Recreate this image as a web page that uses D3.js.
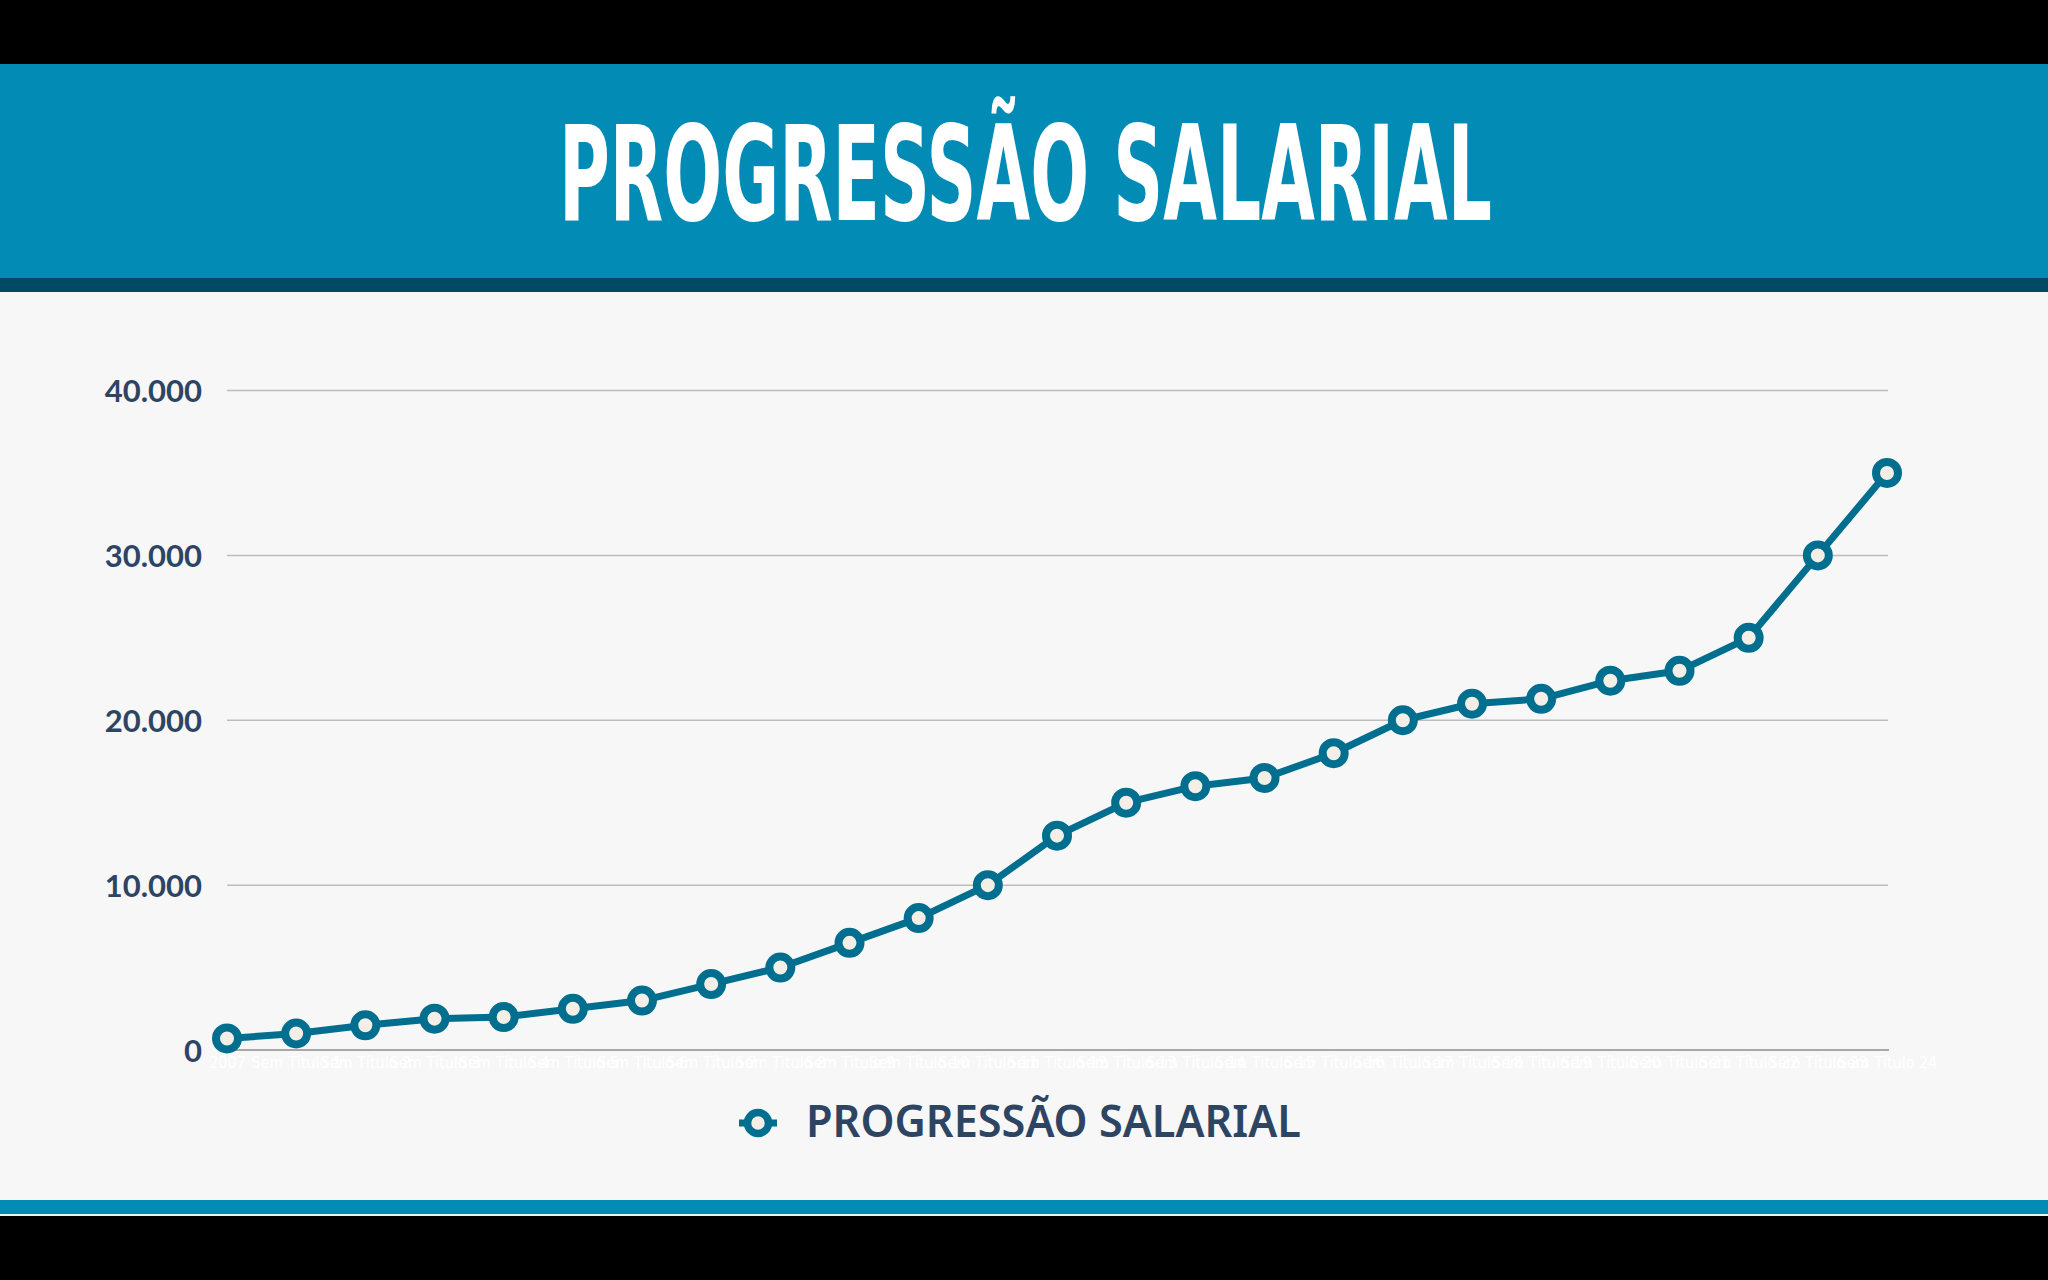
<!DOCTYPE html>
<html>
<head>
<meta charset="utf-8">
<script src="https://cdn.jsdelivr.net/npm/d3@7"></script>
<style>
  html, body { margin: 0; padding: 0; background: #000; }
  svg { display: block; }
</style>
</head>
<body>
<svg id="chart" width="2048" height="1280"></svg>
<script>
const title = "PROGRESSÃO SALARIAL";
const seriesName = "PROGRESSÃO SALARIAL";
const categories = ["2007"].concat(d3.range(1, 25).map(i => "Sem Título " + i));
const values = [700, 1000, 1500, 1900, 2000, 2500, 3000, 4000, 5000, 6500, 8000, 10000,
                13000, 15000, 16000, 16500, 18000, 20000, 21000, 21300, 22400, 23000,
                25000, 30000, 35000];
const yTicks = [0, 10000, 20000, 30000, 40000];
const yTickLabels = ["0", "10.000", "20.000", "30.000", "40.000"];

const W = 2048, H = 1280;
const svg = d3.select("#chart");

// background layers
svg.append("rect").attr("x", 0).attr("y", 0).attr("width", W).attr("height", H).attr("fill", "#000");
svg.append("rect").attr("x", 0).attr("y", 64).attr("width", W).attr("height", 1152).attr("fill", "#f7f7f7");
svg.append("rect").attr("x", 0).attr("y", 64).attr("width", W).attr("height", 214).attr("fill", "#028cb5");
svg.append("rect").attr("x", 0).attr("y", 278).attr("width", W).attr("height", 14).attr("fill", "#004b64");
svg.append("rect").attr("x", 0).attr("y", 1200).attr("width", W).attr("height", 14).attr("fill", "#028cb5");
svg.append("rect").attr("x", 0).attr("y", 1214).attr("width", W).attr("height", 2).attr("fill", "#e8f4f8");

// title
svg.append("text")
  .attr("x", 559).attr("y", 220)
  .attr("font-family", "'Liberation Sans Narrow', 'DejaVu Sans Condensed', 'Liberation Sans', sans-serif")
  .attr("font-weight", "bold")
  .attr("font-size", 132)
  .attr("fill", "#ffffff")
  .attr("textLength", 933)
  .attr("lengthAdjust", "spacingAndGlyphs")
  .text(title);

// scales
const x = d3.scalePoint().domain(categories).range([227, 1887]);
const y = d3.scaleLinear().domain([0, 40000]).range([1050, 390.5]);

// grid lines
const grid = svg.append("g");
grid.selectAll("line").data(yTicks.filter(d => d !== 0)).enter().append("line")
  .attr("x1", 227).attr("x2", 1888)
  .attr("y1", d => y(d)).attr("y2", d => y(d))
  .attr("stroke", "#bdbdbd").attr("stroke-width", 1.5);

// baseline
svg.append("line")
  .attr("x1", 227).attr("x2", 1889)
  .attr("y1", y(0)).attr("y2", y(0))
  .attr("stroke", "#a8a8a8").attr("stroke-width", 2);

// y axis labels
const yAxis = d3.axisLeft(y).tickValues(yTicks).tickSize(0).tickPadding(0)
  .tickFormat((d, i) => yTickLabels[i]);
const yg = svg.append("g").attr("transform", "translate(202,0)").call(yAxis);
yg.select(".domain").remove();
yg.selectAll("text")
  .attr("font-family", "Lato, 'Open Sans', sans-serif")
  .attr("font-weight", "bold")
  .attr("font-size", 31)
  .attr("fill", "#2d4563")
  .attr("dy", "0.36em");

// x axis labels (near-invisible white, as in the original)
const xAxis = d3.axisBottom(x).tickSize(0).tickPadding(0);
const xg = svg.append("g").attr("transform", "translate(0,1062)").call(xAxis);
xg.select(".domain").remove();
xg.selectAll("text")
  .attr("font-family", "'Liberation Sans Narrow', 'DejaVu Sans Condensed', sans-serif")
  .attr("font-size", 16)
  .attr("fill", "#ffffff")
  .attr("dy", "0.35em");

// line
const line = d3.line().x((d, i) => x(categories[i])).y(d => y(d));
svg.append("path").datum(values)
  .attr("d", line)
  .attr("fill", "none")
  .attr("stroke", "#006f8f")
  .attr("stroke-width", 7)
  .attr("stroke-linejoin", "round");

// markers
svg.append("g").selectAll("circle").data(values).enter().append("circle")
  .attr("cx", (d, i) => x(categories[i]))
  .attr("cy", d => y(d))
  .attr("r", 11)
  .attr("fill", "#f3efe6")
  .attr("stroke", "#006f8f")
  .attr("stroke-width", 8);

// legend
const lg = svg.append("g");
lg.append("line").attr("x1", 739).attr("x2", 777).attr("y1", 1123).attr("y2", 1123)
  .attr("stroke", "#006f8f").attr("stroke-width", 7);
lg.append("circle").attr("cx", 758).attr("cy", 1123).attr("r", 10.5)
  .attr("fill", "#f3efe6").attr("stroke", "#006f8f").attr("stroke-width", 7.5);
lg.append("text")
  .attr("x", 806).attr("y", 1137)
  .attr("font-family", "'Noto Sans', 'Open Sans', sans-serif")
  .attr("font-weight", 600)
  .attr("font-size", 45)
  .attr("fill", "#2d4563")
  .attr("textLength", 495)
  .attr("lengthAdjust", "spacingAndGlyphs")
  .text(seriesName);
</script>
</body>
</html>
